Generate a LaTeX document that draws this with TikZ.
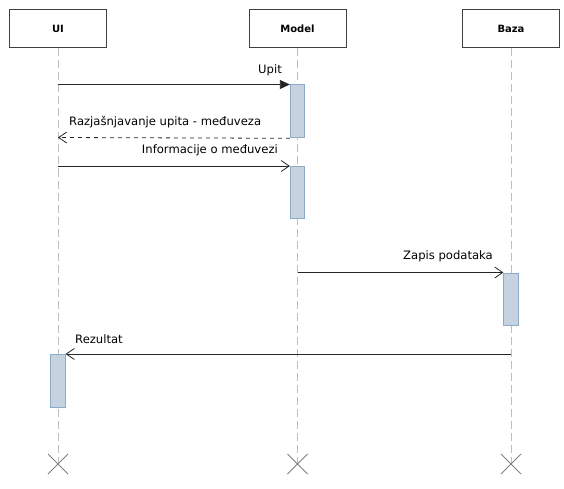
\documentclass[tikz,border=0pt]{standalone}
\usepackage{fontspec}
\setmainfont{DejaVu Sans}
\usetikzlibrary{arrows.meta}
\definecolor{actfill}{HTML}{C4D3DF}
\definecolor{actdraw}{HTML}{8DAAC6}
\definecolor{lifegray}{HTML}{BEBEBE}
\definecolor{boxline}{HTML}{404040}
\begin{document}
\begin{tikzpicture}[x=1pt,y=-1pt,
  objbox/.style={draw=boxline,line width=1pt,fill=white,minimum width=97pt,minimum height=38pt,inner sep=0pt,font=\fontsize{10}{12}\selectfont\bfseries},
  lifeline/.style={draw=lifegray,line width=1pt,dash pattern=on 8pt off 4pt},
  act/.style={draw=actdraw,fill=actfill,line width=0.8pt},
  msg/.style={draw=black!85,line width=0.8pt},
  lbl/.style={font=\fontsize{11.6}{13}\selectfont,inner sep=0pt},
  xmark/.style={draw=gray,line width=0.8pt},
  synch/.style={-{Triangle[length=10pt,width=9pt]}},
  opena/.style={-{Straight Barb[length=8pt,width=11pt,line width=0.8pt]}}
]
\useasboundingbox (0,0) rectangle (564,489);
% objects
\node[objbox] (ui) at (58,29) {UI};
\node[objbox] (model) at (297.5,29) {Model};
\node[objbox] (baza) at (511,29) {Baza};
% lifeline ends
\coordinate (uiend) at (58,464);
\coordinate (modelend) at (297.5,464);
\coordinate (bazaend) at (511,464);
\draw[lifeline] (ui.south) -- (uiend);
\draw[lifeline] (model.south) -- (modelend);
\draw[lifeline] (baza.south) -- (bazaend);
% X marks
\foreach \c in {uiend,modelend,bazaend}{
  \draw[xmark] ([shift={(-10,-10)}]\c) -- ([shift={(10,10)}]\c);
  \draw[xmark] ([shift={(-10,10)}]\c) -- ([shift={(10,-10)}]\c);
}
% activations
\node[act,minimum width=14.5pt,minimum height=53pt,inner sep=0pt,anchor=north] (a1) at (297.5,84.5) {};
\node[act,minimum width=14.5pt,minimum height=52pt,inner sep=0pt,anchor=north] (a2) at (297.5,166) {};
\node[act,minimum width=14.5pt,minimum height=52.5pt,inner sep=0pt,anchor=north] (a3) at (511,272.5) {};
\node[act,minimum width=14.5pt,minimum height=52.5pt,inner sep=0pt,anchor=north] (a4) at (58,354) {};
% message anchors
\coordinate (m1s) at (58,84.5);
\coordinate (m2e) at (58,137.5);
\coordinate (m3s) at (58,166);
\coordinate (m4s) at (297.5,272.5);
\coordinate (m5s) at (511,354);
% messages
\draw[msg,synch] (m1s) -- (a1.north west);
\node[lbl,anchor=east] (l1) at (282,70) {Upit};
\draw[msg,opena,dash pattern=on 4pt off 4pt] (a1.south west) -- (m2e);
\node[lbl,anchor=west] (l2) at (69,122) {Razjašnjavanje upita - međuveza};
\draw[msg,opena] (m3s) -- (a2.north west);
\node[lbl,anchor=east] (l3) at (278,150.5) {Informacije o međuvezi};
\draw[msg,opena] (m4s) -- (a3.north west);
\node[lbl,anchor=east] (l4) at (493,256.5) {Zapis podataka};
\draw[msg,opena] (m5s) -- (a4.north east);
\node[lbl,anchor=west] (l5) at (75,339) {Rezultat};
\end{tikzpicture}
\end{document}
